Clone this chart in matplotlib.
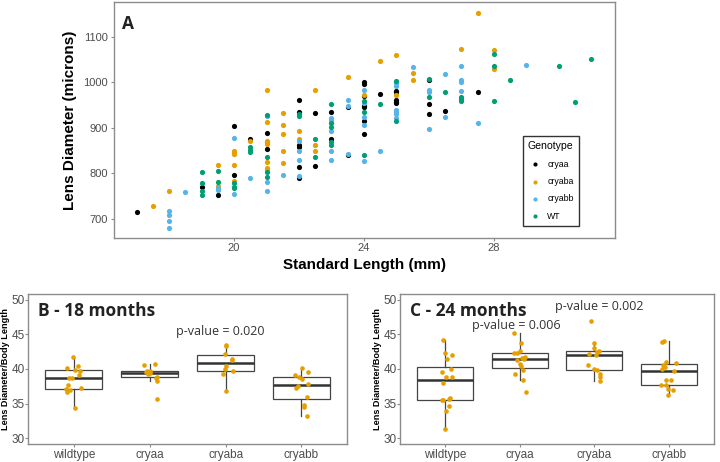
import matplotlib
matplotlib.use("Agg")
import matplotlib.pyplot as plt
import numpy as np


# Panel A data: standard length (mm) vs lens diameter (microns)
cryaa_sl = [17.0, 19.0, 19.5, 20, 20, 20.5, 21, 21, 22, 22, 22, 22, 22, 22, 22.5, 22.5, 23, 23, 23.5, 23.5,
            24, 24, 24, 24, 24, 24, 24, 24.5, 25, 25, 25, 25, 25, 26, 26, 26, 26.5, 27.5]
cryaa_ld = [715, 771, 753, 903, 796, 875, 888, 854, 962, 934, 863, 858, 815, 789, 932, 816, 935, 876, 946, 840,
            1000, 997, 970, 948, 945, 915, 887, 975, 982, 979, 962, 957, 954, 1005, 952, 931, 937, 978]

cryaba_sl = [17.5, 18, 19.5, 19.5, 20, 20, 20, 20, 20, 20.5, 21, 21, 21, 21, 21, 21, 21, 21, 21.5, 21.5,
             21.5, 21.5, 21.5, 22, 22, 22.5, 22.5, 22.5, 23, 23.5, 24, 24.5, 25, 25, 25.5, 25.5, 27, 27.5, 28, 28]
cryaba_ld = [728, 762, 819, 773, 849, 846, 842, 819, 784, 871, 983, 913, 871, 868, 865, 825, 812, 808, 932, 907,
             887, 849, 822, 892, 875, 983, 863, 850, 917, 1011, 973, 1046, 1060, 973, 1020, 1005, 1074, 1153, 1071, 1030]

cryabb_sl = [18, 18, 18, 18, 18.5, 19.5, 19.5, 20, 20, 20.5, 21, 21, 21, 21.5, 22, 22, 22, 22, 23, 23, 23, 23,
             23.5, 23.5, 23.5, 24, 24, 24, 24, 24, 24.5, 25, 25, 25, 25, 25, 25, 25.5, 26, 26, 26, 26.5, 26.5,
             27, 27, 27, 27, 27.5, 29]
cryabb_ld = [718, 708, 696, 680, 759, 767, 763, 877, 755, 789, 925, 782, 761, 796, 872, 850, 830, 795, 921, 893, 849, 830,
             961, 948, 843, 984, 955, 923, 907, 828, 850, 998, 991, 940, 935, 931, 922, 1034, 983, 978, 897, 1019, 923,
             1036, 1006, 1000, 980, 910, 1038]

wt_sl = [19, 19, 19, 19, 19.5, 19.5, 20, 20, 20, 20.5, 20.5, 20.5, 21, 21, 21, 21, 22, 22, 22.5, 22.5, 23, 23, 23,
         23, 23, 24, 24, 24, 24.5, 25, 25, 26, 26, 26.5, 27, 27, 27, 28, 28, 28, 28.5, 30, 30.5, 31]
wt_ld = [802, 778, 761, 752, 805, 781, 778, 771, 767, 858, 852, 846, 929, 836, 802, 793, 930, 925, 876, 835, 952, 910, 901,
         868, 862, 960, 934, 841, 953, 1002, 915, 1007, 967, 979, 967, 963, 959, 1063, 1036, 959, 1005, 1037, 956, 1051]

genotypes = ["cryaa", "cryaba", "cryabb", "WT"]
geno_colors = ["#000000", "#E69F00", "#56B4E9", "#009E73"]

# Panels B and C: lens diameter / body length
groups = ["wildtype", "cryaa", "cryaba", "cryabb"]

b_wt = [41.76, 40.12, 40.46, 39.86, 39.64, 39.16, 38.70, 38.74, 37.71, 37.23, 37.10, 36.99, 36.60, 34.29]
b_cryaa = [40.62, 40.70, 39.76, 39.70, 39.55, 39.40, 39.30, 38.85, 38.70, 38.29, 35.62]
b_cryaba = [43.40, 43.30, 42.13, 41.50, 41.30, 40.50, 40.02, 39.68, 39.30, 36.84]
b_cryabb = [40.12, 39.59, 39.06, 38.82, 38.48, 37.81, 37.47, 37.23, 35.88, 34.82, 34.53, 33.18]

c_wt = [44.15, 42.24, 42.0, 41.42, 40.0, 39.54, 38.91, 38.91, 37.95, 35.78, 35.65, 35.50, 35.45, 34.58, 33.95, 31.35]
c_cryaa = [45.18, 43.74, 42.67, 42.34, 42.24, 41.71, 41.57, 41.42, 41.33, 40.65, 40.36, 39.88, 39.26, 38.43, 36.65]
c_cryaba = [46.87, 43.74, 43.06, 42.58, 42.48, 42.19, 41.95, 40.60, 40.02, 39.83, 39.30, 38.91, 38.24]
c_cryabb = [44.07, 43.88, 41.04, 40.89, 40.55, 40.30, 40.02, 39.64, 38.43, 38.43, 37.72, 37.70, 37.10, 36.94, 36.27]

# horizontal jitter
b_jit = [[-0.01, -0.09, 0.06, 0.02, 0.08, 0.07, -0.06, -0.02, -0.08, 0.09, -0.1, -0.05, -0.09, 0.02],
         [-0.08, 0.07, -0.03, 0.0, -0.05, 0.01, -0.02, 0.1, 0.08, 0.09, 0.09],
         [0.0, 0.01, -0.01, 0.08, 0.09, 0.0, -0.01, 0.1, -0.03, 0.0],
         [0.01, 0.08, -0.09, -0.03, 0.01, 0.08, -0.05, -0.07, 0.07, 0.04, 0.04, 0.07]]
c_jit = [[-0.03, 0.0, 0.09, 0.03, 0.08, -0.04, 0.02, 0.09, -0.02, 0.07, 0.06, -0.04, -0.02, 0.05, 0.01, 0.0],
         [-0.08, 0.02, 0.0, -0.03, -0.08, 0.07, 0.03, 0.06, -0.03, 0.0, 0.02, 0.05, -0.06, 0.04, 0.08],
         [-0.04, -0.01, -0.01, 0.06, 0.03, -0.07, 0.02, -0.08, 0.0, 0.04, 0.07, 0.07, 0.08],
         [-0.07, -0.1, -0.04, 0.09, -0.08, -0.06, -0.09, 0.06, -0.04, 0.03, -0.11, -0.04, -0.01, 0.05, -0.02]]


LAB = "Liberation Sans"
TITLE = "Open Sans"
FRAME = "#8c8c8c"
TICKC = "#4d4d4d"


def style_axes(ax, size):
    for s in ax.spines.values():
        s.set_color(FRAME)
        s.set_linewidth(1.0)
    ax.tick_params(colors=FRAME, labelcolor=TICKC, length=2.5, width=0.8, labelsize=size, pad=1.5)
    for t in ax.get_xticklabels() + ax.get_yticklabels():
        t.set_fontfamily(LAB)


fig = plt.figure(figsize=(7.2, 4.62), dpi=100)
fig.patch.set_facecolor("white")

# ---- Panel A
ax = fig.add_axes([0.158, 0.485, 0.696, 0.511])
sets = [(cryaa_sl, cryaa_ld), (cryaba_sl, cryaba_ld), (cryabb_sl, cryabb_ld), (wt_sl, wt_ld)]
for (sl, ld), g, c in zip(sets, genotypes, geno_colors):
    ax.scatter(sl, ld, s=14, color=c, label=g, linewidths=0, zorder=3)
ax.set_xlim(16.3, 31.72)
ax.set_ylim(658, 1177)
ax.set_xticks([20, 24, 28])
ax.set_yticks([700, 800, 900, 1000, 1100])
style_axes(ax, 8)
ax.set_xlabel("Standard Length (mm)", fontfamily=LAB, fontweight="bold", fontsize=11, labelpad=3)
ax.set_ylabel("Lens Diameter (microns)", fontfamily=LAB, fontweight="bold", fontsize=11, labelpad=5)
ax.text(0.016, 0.905, "A", transform=ax.transAxes, fontfamily=TITLE, fontweight="bold",
        fontsize=12.5, color="#222222", va="center", ha="left")
leg = ax.legend(loc="lower right", bbox_to_anchor=(0.928, 0.051), borderaxespad=0,
                title="Genotype", fontsize=6.3, title_fontsize=7.6, frameon=True, fancybox=False,
                markerscale=0.8, handletextpad=0.6, labelspacing=0.95, borderpad=0.6, handlelength=1.6)
leg.get_frame().set_edgecolor("black")
leg.get_frame().set_linewidth(1.0)
for t in leg.get_texts():
    t.set_fontfamily(LAB)
leg.get_title().set_fontfamily(LAB)


# ---- Panels B and C
def box_panel(rect, data, jit, title, pvals):
    bx = fig.add_axes(rect)
    pos = np.arange(1, 5)
    bx.boxplot(data, positions=pos, widths=0.75, showfliers=False, showcaps=False, patch_artist=True,
               boxprops=dict(facecolor="white", edgecolor="#444444", linewidth=0.9),
               whiskerprops=dict(color="#444444", linewidth=0.9),
               medianprops=dict(color="#333333", linewidth=1.8))
    for p, vals, j in zip(pos, data, jit):
        bx.scatter(p + np.array(j), vals, s=11, color="#E69F00", linewidths=0, zorder=3)
    bx.set_xlim(0.4, 4.6)
    bx.set_ylim(29.15, 50.85)
    bx.set_xticks(pos)
    bx.set_xticklabels(groups)
    bx.set_yticks([30, 35, 40, 45, 50])
    style_axes(bx, 8.5)
    bx.tick_params(axis="x", pad=1)
    bx.tick_params(axis="y", pad=0.5, length=2)
    bx.set_ylabel("Lens Diameter/Body Length", fontfamily=LAB, fontweight="bold", fontsize=6.6, labelpad=1)
    bx.text(0.53, 48.4, title, fontfamily=TITLE, fontweight="bold", fontsize=12.5,
            color="#222222", ha="left", va="center")
    for x, y, s in pvals:
        bx.text(x, y, s, fontfamily=TITLE, fontsize=9, color="#333333", ha="center", va="center")
    return bx


box_panel([0.0393, 0.039, 0.4426, 0.3247], [b_wt, b_cryaa, b_cryaba, b_cryabb], b_jit,
          "B - 18 months", [(2.93, 45.4, "p-value = 0.020")])
box_panel([0.5556, 0.039, 0.436, 0.3247], [c_wt, c_cryaa, c_cryaba, c_cryabb], c_jit,
          "C - 24 months", [(1.96, 46.3, "p-value = 0.006"), (3.06, 49.0, "p-value = 0.002")])

fig.savefig("out.png", dpi=100, facecolor="white")
